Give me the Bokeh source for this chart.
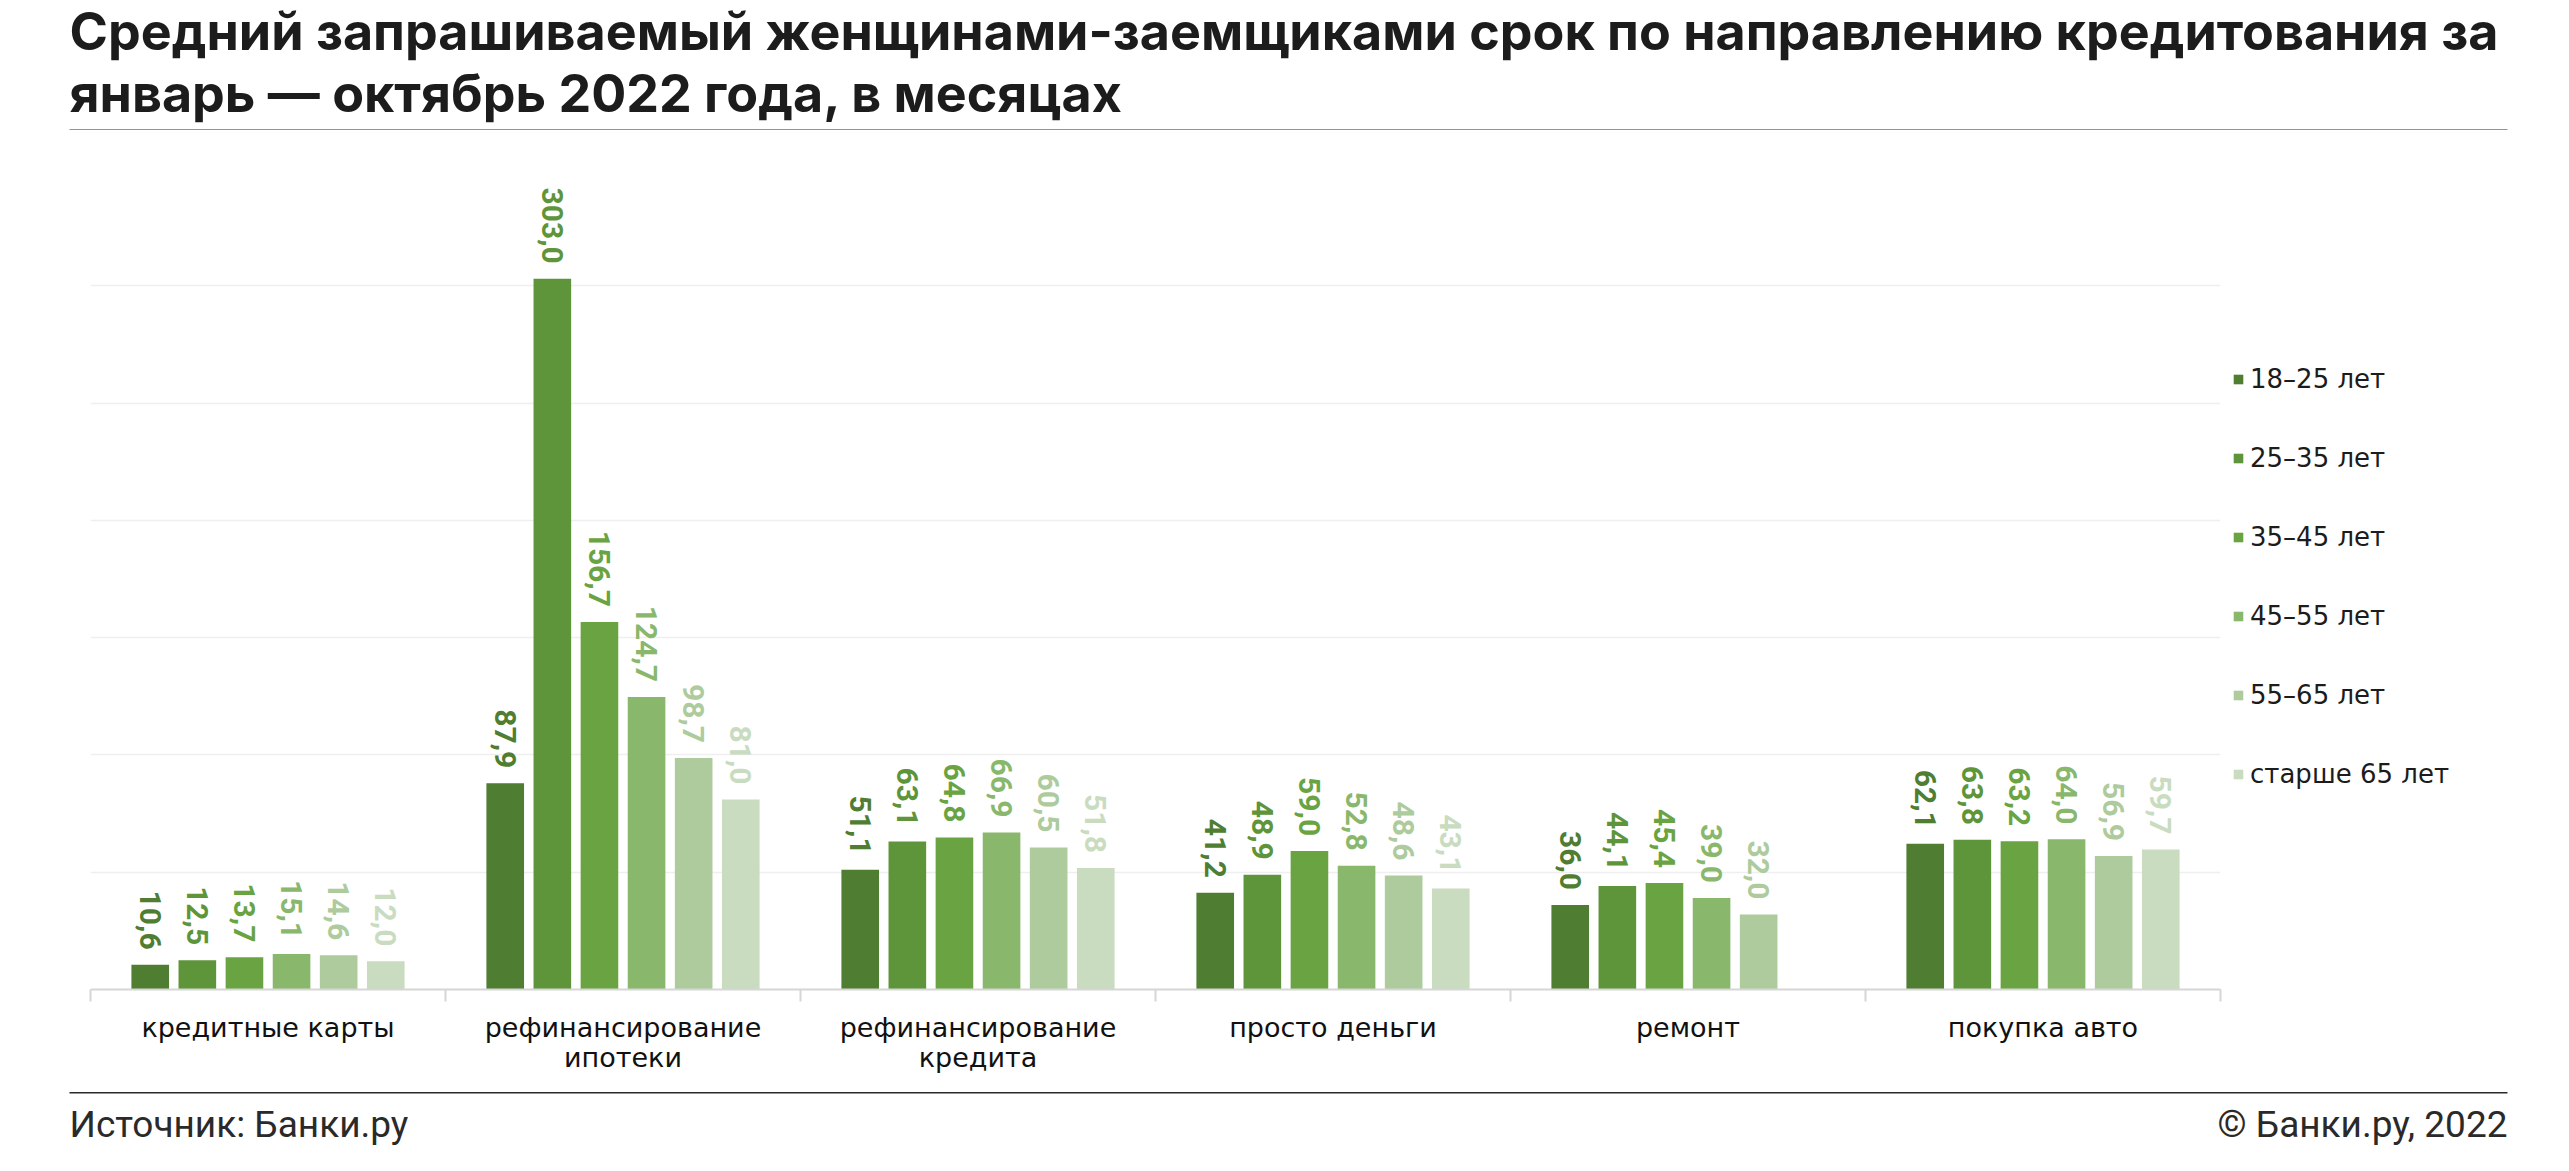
import numpy as np
from bokeh.plotting import figure
from bokeh.layouts import column, row
from bokeh.models import (ColumnDataSource, FixedTicker, LinearAxis, Label, LabelSet,
                          Legend, LegendItem, Range1d, Grid, CustomJSTickFormatter)
from bokeh.embed import file_html
from bokeh.resources import INLINE
from bokeh.core.properties import value

# ---------------- data ----------------
categories = ["кредитные карты", "рефинансирование\nипотеки", "рефинансирование\nкредита",
              "просто деньги", "ремонт", "покупка авто"]
age_groups = ["18–25 лет", "25–35 лет", "35–45 лет", "45–55 лет", "55–65 лет", "старше 65 лет"]
s_18_25 = [10.6, 87.9, 51.1, 41.2, 36.0, 62.1]
s_25_35 = [12.5, 303.0, 63.1, 48.9, 44.1, 63.8]
s_35_45 = [13.7, 156.7, 64.8, 59.0, 45.4, 63.2]
s_45_55 = [15.1, 124.7, 66.9, 52.8, 39.0, 64.0]
s_55_65 = [14.6, 98.7, 60.5, 48.6, 32.0, 56.9]
s_65_plus = [12.0, 81.0, 51.8, 43.1, None, 59.7]
series = [s_18_25, s_25_35, s_35_45, s_45_55, s_55_65, s_65_plus]
colors = ["#4f7d32", "#5f953a", "#6aa442", "#89b86d", "#adcb9c", "#c9dcc0"]
y_ticks = [0, 50, 100, 150, 200, 250, 300, 350]

title_1 = "Средний запрашиваемый женщинами-заемщиками срок по направлению кредитования за"
title_2 = "январь — октябрь 2022 года, в месяцах"
source_text = "Источник: Банки.ру"
copy_text = "© Банки.ру, 2022"

W = 2553
TITLE_FONT = "Inter"
BODY_FONT = "DejaVu Sans"

# ---------------- title figure ----------------
pa = figure(width=W, height=130, x_axis_type=None, y_axis_type=None,
            x_range=Range1d(0, 1), y_range=Range1d(0, 1),
            toolbar_location=None, output_backend="svg", frame_align=False,
            min_border_left=69, min_border_right=46, min_border_top=0, min_border_bottom=0,
            outline_line_color=None)
rule_a = LinearAxis(ticker=FixedTicker(ticks=[]), axis_line_color="#2b2b2b", axis_line_width=2,
                    major_tick_line_color=None, minor_tick_line_color=None,
                    major_label_text_font_size="0px", major_label_standoff=0)
pa.add_layout(rule_a, "below")
for txt, yy in [(title_1, 99), (title_2, 37)]:
    pa.add_layout(Label(x=0, y=yy, x_units="screen", y_units="screen", text=txt,
                        text_font=TITLE_FONT, text_font_size="52px", text_font_style="bold",
                        text_color="#1c1c1c", text_baseline="alphabetic"))

# ---------------- main chart ----------------
n = len(categories)
centers = [i + 0.5 for i in range(n)]
bounds = list(range(n + 1))
pitch = 0.1327
bar_w = 0.106
H_MAIN = 962
P_W = 2225

p = figure(width=P_W, height=H_MAIN, x_axis_type=None, y_axis_type=None,
           x_range=Range1d(0, n), y_range=Range1d(0, 350),
           toolbar_location=None, output_backend="svg", frame_align=False,
           min_border_left=90, min_border_right=5, min_border_top=38, min_border_bottom=H_MAIN - 38 - 821,
           outline_line_color=None)

p.add_layout(Grid(dimension=1, ticker=FixedTicker(ticks=y_ticks),
                  grid_line_color="#efefef", grid_line_width=1.5))

# legend panel (its renderers share the data but stay hidden; only swatches show)
pl = figure(width=W - P_W, height=H_MAIN, x_axis_type=None, y_axis_type=None,
            x_range=Range1d(0, 1), y_range=Range1d(0, 1),
            toolbar_location=None, output_backend="svg", frame_align=False,
            min_border=0, outline_line_color=None)
items = []

for k, (vals, col, name) in enumerate(zip(series, colors, age_groups)):
    xs, ys, labs = [], [], []
    for i, v in enumerate(vals):
        if v is None:
            continue
        xs.append(centers[i] + (k - 2.5) * pitch)
        ys.append(v)
        labs.append(f"{v:.1f}".replace(".", ","))
    src = ColumnDataSource(dict(x=xs, top=ys, lab=labs))
    p.vbar(x="x", top="top", bottom=0, width=bar_w, source=src,
           fill_color=col, line_color=None)
    p.add_layout(LabelSet(x="x", y="top", text="lab", source=src, angle=-np.pi / 2,
                          text_align="right", text_baseline="middle", y_offset=15,
                          text_font=value("Roboto"), text_font_style="bold",
                          text_font_size="30px", text_color=col))
    rl = pl.vbar(x="x", top="top", bottom=0, width=bar_w, source=src,
                 fill_color=col, line_color=None, visible=False)
    items.append(LegendItem(label=name, renderers=[rl]))

xa = LinearAxis(ticker=FixedTicker(ticks=centers, minor_ticks=bounds),
                formatter=CustomJSTickFormatter(args=dict(cats=categories),
                                                code="return cats[Math.floor(tick)];"),
                axis_line_color="#d6d6d6", axis_line_width=2,
                major_tick_line_color=None, major_tick_out=0, major_tick_in=0,
                minor_tick_line_color="#d6d6d6", minor_tick_line_width=2,
                minor_tick_out=12, minor_tick_in=0,
                major_label_standoff=10, major_label_text_font=BODY_FONT,
                major_label_text_font_size="27px", major_label_text_color="#111111",
                major_label_text_line_height=0.986)
p.add_layout(xa, "below")

legend = Legend(items=items, location=(7, H_MAIN - 789 + 130), orientation="vertical",
                glyph_width=12, glyph_height=12, label_height=30, spacing=49,
                label_standoff=6, padding=0, margin=0,
                border_line_color=None, background_fill_alpha=0,
                label_text_font=BODY_FONT, label_text_font_size="26px",
                label_text_color="#1c1c1c")
pl.add_layout(legend, "center")

# ---------------- footer ----------------
pc = figure(width=W, height=1158 - 130 - H_MAIN, x_axis_type=None, y_axis_type=None,
            x_range=Range1d(0, 1), y_range=Range1d(0, 1),
            toolbar_location=None, output_backend="svg", frame_align=False,
            min_border_left=69, min_border_right=46, min_border_top=0, min_border_bottom=0,
            outline_line_color=None)
rule_c = LinearAxis(ticker=FixedTicker(ticks=[]), axis_line_color="#2b2b2b", axis_line_width=2,
                    major_tick_line_color=None, minor_tick_line_color=None,
                    major_label_text_font_size="0px", major_label_standoff=0)
pc.add_layout(rule_c, "above")
pc.add_layout(Label(x=0, y=34, x_units="screen", y_units="screen", text=source_text,
                    text_font="Roboto", text_font_size="37px", text_color="#2a2a2a",
                    text_baseline="alphabetic"))
pc.add_layout(Label(x=2438, y=34, x_units="screen", y_units="screen", text=copy_text,
                    text_font="Roboto", text_font_size="37px", text_color="#2a2a2a",
                    text_baseline="alphabetic", text_align="right"))

layout = column(pa, row(p, pl, spacing=0), pc, spacing=0)
open("out.html", "w").write(file_html(layout, INLINE))
